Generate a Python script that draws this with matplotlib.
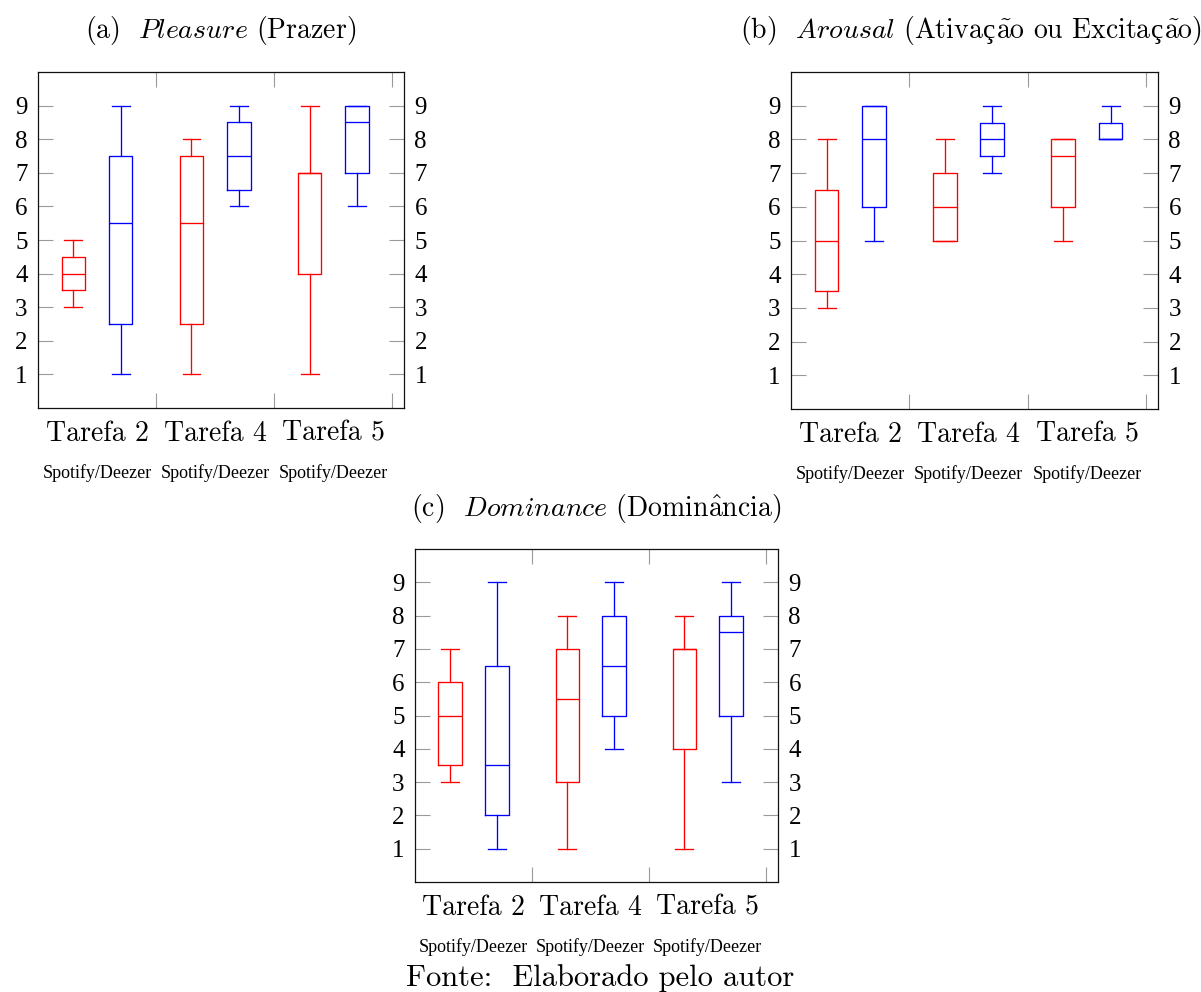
import matplotlib
matplotlib.use("Agg")
import matplotlib.pyplot as plt

plt.rcParams["mathtext.fontset"] = "cm"

# ==========================================================
# DADOS
# ==========================================================

TAREFAS = ["Tarefa 2", "Tarefa 4", "Tarefa 5"]
PLATAFORMA = "Spotify/Deezer"
YTICKS = [1, 2, 3, 4, 5, 6, 7, 8, 9]

# ordem das caixas: T2 vermelho, T2 azul, T4 vermelho, T4 azul, T5 vermelho, T5 azul
pleasure_lo = [3, 1, 1, 6, 1, 6]
pleasure_q1 = [3.5, 2.5, 2.5, 6.5, 4, 7]
pleasure_med = [4, 5.5, 5.5, 7.5, 7, 8.5]
pleasure_q3 = [4.5, 7.5, 7.5, 8.5, 7, 9]
pleasure_hi = [5, 9, 8, 9, 9, 9]

arousal_lo = [3, 5, 5, 7, 5, 8]
arousal_q1 = [3.5, 6, 5, 7.5, 6, 8]
arousal_med = [5, 8, 6, 8, 7.5, 8]
arousal_q3 = [6.5, 9, 7, 8.5, 8, 8.5]
arousal_hi = [8, 9, 8, 9, 8, 9]

dominance_lo = [3, 1, 1, 4, 1, 3]
dominance_q1 = [3.5, 2, 3, 5, 4, 5]
dominance_med = [5, 3.5, 5.5, 6.5, 7, 7.5]
dominance_q3 = [6, 6.5, 7, 8, 7, 8]
dominance_hi = [7, 9, 8, 9, 8, 9]

# ==========================================================
# CONFIGURACAO
# ==========================================================

W, H = 1201, 992
DPI = 100
CORES = ["red", "blue"]
POS = [1, 2, 3.5, 4.5, 6, 7]
CENTROS = [1.5, 4, 6.5]
LIMITES = [2.75, 5.25, 7.75]
CM = "cmr10"
SERIF = "Liberation Serif"
TICK_GRAY = "#9a9a9a"

# titulos em pedacos: cmr10 nao tem "ç", entao esse vem de outra fonte
TITULO_A = [(r"(a)  $\mathit{Pleasure}$ (Prazer)", CM)]
TITULO_B = [
    (r"(b)  $\mathit{Arousal}$ (Ativa", CM),
    ("ç", SERIF),
    (r"$\tilde{\mathrm{a}}$o ou Excita", CM),
    ("ç", SERIF),
    (r"$\tilde{\mathrm{a}}$o)", CM),
]
TITULO_C = [(r"(c)  $\mathit{Dominance}$ (Domin$\hat{\mathrm{a}}$ncia)", CM)]

fig = plt.figure(figsize=(W / DPI, H / DPI), dpi=DPI, facecolor="white")
renderer = fig.canvas.get_renderer()


def titulo(ax, runs, dy, dx=0):
    textos = []
    for s, fam in runs:
        t = ax.annotate(
            s,
            xy=(0.5, 1),
            xycoords="axes fraction",
            xytext=(0, dy),
            textcoords="offset points",
            ha="left",
            va="baseline",
            fontfamily=fam,
            fontsize=20,
        )
        textos.append(t)
    larguras = [t.get_window_extent(renderer).width for t in textos]
    x = -sum(larguras) / 2 + dx
    for t, w in zip(textos, larguras):
        t.set_position((x * 72 / DPI, dy))
        x += w


def painel(rect, runs, lo, q1, med, q3, hi, dy=24.5, dx=0):
    ax = fig.add_axes(rect)
    for i, p in enumerate(POS):
        cor = CORES[i % 2]
        st = [dict(whislo=lo[i], q1=q1[i], med=med[i], q3=q3[i], whishi=hi[i], fliers=[])]
        props = dict(color=cor, linewidth=0.95)
        ax.bxp(
            st,
            positions=[p],
            widths=0.5,
            capwidths=0.38,
            showfliers=False,
            boxprops=props,
            whiskerprops=props,
            capprops=props,
            medianprops=props,
        )

    ax.set_xlim(0.25, 8.0)
    ax.set_ylim(0, 10)

    ax.set_yticks(YTICKS)
    ax.set_yticklabels([str(v) for v in YTICKS], fontfamily=SERIF, fontsize=18)
    ax.tick_params(
        axis="y",
        direction="in",
        length=10.5,
        width=0.8,
        color=TICK_GRAY,
        left=True,
        right=True,
        labelleft=True,
        labelright=True,
        pad=7.5,
    )

    ax.set_xticks(CENTROS)
    ax.set_xticklabels(TAREFAS, fontfamily=CM, fontsize=20)
    ax.tick_params(axis="x", which="major", length=0, pad=9)
    ax.set_xticks(LIMITES, minor=True)
    ax.tick_params(
        axis="x",
        which="minor",
        direction="in",
        length=10.5,
        width=0.8,
        color=TICK_GRAY,
        top=True,
        bottom=True,
    )

    for c in CENTROS:
        ax.annotate(
            PLATAFORMA,
            xy=(c, 0),
            xycoords=("data", "axes fraction"),
            xytext=(0, -47),
            textcoords="offset points",
            ha="center",
            va="center",
            fontfamily=SERIF,
            fontsize=13,
        )

    titulo(ax, runs, dy, dx)

    for s in ax.spines.values():
        s.set_linewidth(0.9)
        s.set_color("#111111")
    return ax


painel(
    [38 / W, 1 - 408 / H, 366 / W, 336 / H],
    TITULO_A,
    pleasure_lo, pleasure_q1, pleasure_med, pleasure_q3, pleasure_hi,
)
painel(
    [791 / W, 1 - 409 / H, 367 / W, 337 / H],
    TITULO_B,
    arousal_lo, arousal_q1, arousal_med, arousal_q3, arousal_hi,
    dx=-4,
)
painel(
    [415 / W, 1 - 882 / H, 363 / W, 333 / H],
    TITULO_C,
    dominance_lo, dominance_q1, dominance_med, dominance_q3, dominance_hi,
    dy=23.5,
)

fig.text(
    0.5,
    1 - 978 / H,
    "Fonte:  Elaborado pelo autor",
    ha="center",
    va="center",
    fontfamily=CM,
    fontsize=22,
)

fig.savefig("out.png", dpi=DPI, facecolor="white")
